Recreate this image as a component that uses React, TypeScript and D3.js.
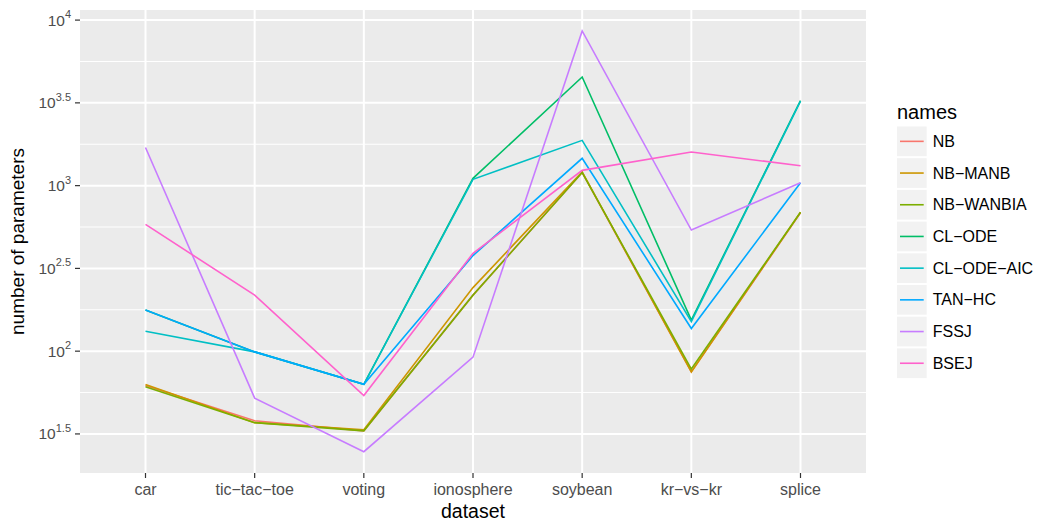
import React from "react";
import * as d3 from "d3";

// datasets on the x axis
const datasets = ["car", "tic-tac-toe", "voting", "ionosphere", "soybean", "kr-vs-kr", "splice"];

// number of parameters per classifier, one value per dataset
const NB = [62, 38, 33, 218, 1202, 75, 685];
const NB_MANB = [63, 37, 33.5, 242, 1210, 75, 690];
const NB_WANBIA = [61, 37, 33, 218, 1200, 78, 690];
const CL_ODE = [177, 99, 63, 1107, 4530, 154, 3258];
const CL_ODE_AIC = [132, 99, 63, 1092, 1877, 151, 3240];
const TAN_HC = [177, 99, 63, 378, 1462, 137, 1041];
const FSSJ = [1700, 52, 24.7, 92, 8600, 539, 1041];
const BSEJ = [583, 218, 54, 390, 1237, 1596, 1318];

const names = ["NB", "NB\u2212MANB", "NB\u2212WANBIA", "CL\u2212ODE", "CL\u2212ODE\u2212AIC", "TAN\u2212HC", "FSSJ", "BSEJ"];
const seriesValues = [NB, NB_MANB, NB_WANBIA, CL_ODE, CL_ODE_AIC, TAN_HC, FSSJ, BSEJ];
const colors = ["#F8766D", "#CD9600", "#7CAE00", "#00BE67", "#00BFC4", "#00A9FF", "#C77CFF", "#FF61CC"];

// y tick exponents (10^e)
const yTickExps = [1.5, 2, 2.5, 3, 3.5, 4];
const yMinorExps = [1.75, 2.25, 2.75, 3.25, 3.75];

const W = 1041;
const H = 522;
const left = 80;
const right = 866;
const top = 10;
const bottom = 473;
const font = "'Liberation Sans', Arial, Helvetica, sans-serif";

export default function App() {
  const x = d3.scalePoint<string>().domain(datasets).range([left, right]).padding(0.6);
  const y = d3
    .scaleLog()
    .domain([Math.pow(10, 1.264), Math.pow(10, 4.061)])
    .range([bottom, top]);

  const line = d3
    .line<number>()
    .x((_, i) => x(datasets[i]) as number)
    .y((d) => y(d));

  const keySize = 31.7;
  const legendTop = 126.5;
  const legendLeft = 897;

  return (
    <svg
      width={W}
      height={H}
      style={{ position: "absolute", left: 0, top: 0, fontFamily: font }}
    >
      <rect x={0} y={0} width={W} height={H} fill="#fff" />
      <rect x={left} y={top} width={right - left} height={bottom - top} fill="#EBEBEB" />
      {yMinorExps.map((e) => (
        <line key={"m" + e} x1={left} x2={right} y1={y(Math.pow(10, e))} y2={y(Math.pow(10, e))} stroke="#fff" strokeWidth={1} />
      ))}
      {yTickExps.map((e) => (
        <line key={"g" + e} x1={left} x2={right} y1={y(Math.pow(10, e))} y2={y(Math.pow(10, e))} stroke="#fff" strokeWidth={2} />
      ))}
      {datasets.map((d) => (
        <line key={"gx" + d} x1={x(d)} x2={x(d)} y1={top} y2={bottom} stroke="#fff" strokeWidth={2} />
      ))}

      {seriesValues.map((vals, i) => (
        <path key={names[i]} d={line(vals) || ""} fill="none" stroke={colors[i]} strokeWidth={1.6} />
      ))}

      {/* y axis */}
      {yTickExps.map((e) => {
        const yy = y(Math.pow(10, e));
        return (
          <g key={"t" + e}>
            <line x1={left - 5} x2={left} y1={yy} y2={yy} stroke="#333" strokeWidth={1.2} />
            <text x={left - 9} y={yy + 5.5} textAnchor="end" fontSize={15.5} fill="#4D4D4D">
              10
              <tspan dy={-7.5} fontSize={11}>{String(e)}</tspan>
            </text>
          </g>
        );
      })}
      {/* x axis */}
      {datasets.map((d) => (
        <g key={"tx" + d}>
          <line x1={x(d)} x2={x(d)} y1={bottom} y2={bottom + 5} stroke="#333" strokeWidth={1.2} />
          <text x={x(d)} y={bottom + 22} textAnchor="middle" fontSize={16} fill="#4D4D4D">
            {d.replace(/-/g, "\u2212")}
          </text>
        </g>
      ))}
      <text x={(left + right) / 2} y={518} textAnchor="middle" fontSize={19.5} fill="#000">
        dataset
      </text>
      <text
        transform={`translate(24,${(top + bottom) / 2}) rotate(-90)`}
        textAnchor="middle"
        fontSize={19}
        fill="#000"
      >
        number of parameters
      </text>

      {/* legend */}
      <text x={legendLeft} y={119} fontSize={20} fill="#000">
        names
      </text>
      {names.map((n, i) => {
        const ky = legendTop + i * keySize;
        return (
          <g key={"l" + n}>
            <rect x={legendLeft} y={ky} width={keySize - 2} height={keySize - 2} fill="#F2F2F2" />
            <line
              x1={legendLeft + 3}
              x2={legendLeft + keySize - 5}
              y1={ky + (keySize - 2) / 2}
              y2={ky + (keySize - 2) / 2}
              stroke={colors[i]}
              strokeWidth={1.6}
            />
            <text x={legendLeft + keySize + 4} y={ky + (keySize - 2) / 2 + 5.5} fontSize={16} fill="#000">
              {n}
            </text>
          </g>
        );
      })}
    </svg>
  );
}
